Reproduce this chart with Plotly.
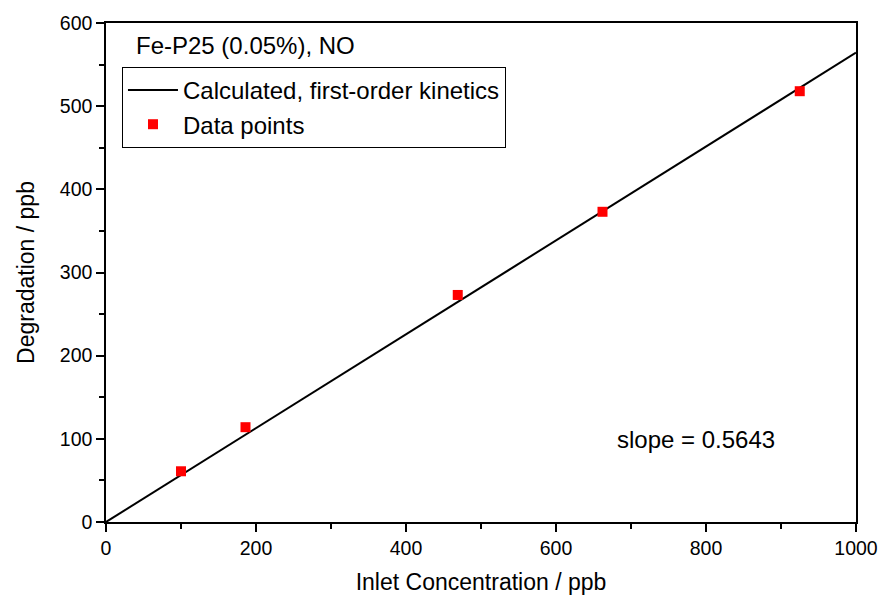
import plotly.graph_objects as go

inlet_ppb = [100, 186, 469, 662, 925]
degradation_ppb = [61, 114, 273, 373, 518]
slope = 0.5643
fit_x = [0, 1000]
fit_y = [v * slope for v in fit_x]

FONT = "Liberation Sans, Arial, sans-serif"

fig = go.Figure()
fig.add_trace(go.Scatter(x=fit_x, y=fit_y, mode="lines",
                         line=dict(color="black", width=2),
                         name="Calculated, first-order kinetics"))
fig.add_trace(go.Scatter(x=inlet_ppb, y=degradation_ppb, mode="markers",
                         marker=dict(symbol="square", color="#ff0000", size=10),
                         name="Data points"))

axis_common = dict(showline=True, linecolor="black", linewidth=1.5, mirror=True,
                   ticks="outside", ticklen=8, tickwidth=1.5, tickcolor="black",
                   showgrid=False, zeroline=False, automargin=False,
                   tickfont=dict(family=FONT, size=19.5, color="black"),
                   minor=dict(ticks="outside", ticklen=5, tickwidth=1.5, tickcolor="black"))

fig.update_xaxes(range=[0, 1000], tick0=0, dtick=200,
                 minor_dtick=100,
                 title=dict(text="Inlet Concentration / ppb",
                            font=dict(family=FONT, size=23, color="black"), standoff=16),
                 **axis_common)
fig.update_yaxes(range=[0, 600], tick0=0, dtick=100,
                 minor_dtick=50,
                 title=dict(text="Degradation / ppb",
                            font=dict(family=FONT, size=23, color="black"), standoff=19),
                 **axis_common)

fig.add_annotation(x=0.037, y=0.954, xref="paper", yref="paper",
                   text="Fe-P25 (0.05%), NO", showarrow=False,
                   xanchor="left", yanchor="middle",
                   font=dict(family=FONT, size=24, color="black"))
fig.add_annotation(x=0.679, y=0.166, xref="paper", yref="paper",
                   text="slope = 0.5643", showarrow=False,
                   xanchor="left", yanchor="middle",
                   font=dict(family=FONT, size=24, color="black"))

fig.update_layout(
    width=881, height=596,
    margin=dict(l=106, r=25, t=23, b=74),
    paper_bgcolor="white", plot_bgcolor="white",
    showlegend=True,
    legend=dict(x=0.0213, y=0.912, xanchor="left", yanchor="top",
                bordercolor="black", borderwidth=1, bgcolor="white",
                font=dict(family=FONT, size=24, color="black"),
                tracegroupgap=0, itemwidth=50),
)

fig.write_html("out.html", config={"displayModeBar": False},
               post_script="document.body.style.margin='0px';")
